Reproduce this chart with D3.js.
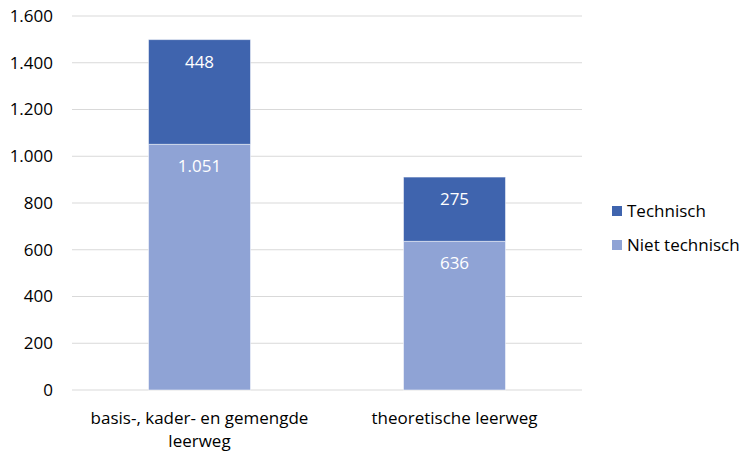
<!DOCTYPE html>
<html>
<head>
<meta charset="utf-8">
<script src="https://cdn.jsdelivr.net/npm/d3@7"></script>
<style>
	body { margin: 0; background: #fff; }
	svg text { font-family: "Open Sans", Lato, sans-serif; }
</style>
</head>
<body>
<div id="chart"></div>
<script>
var categories = ["basis-, kader- en gemengde leerweg", "theoretische leerweg"];
var categoryLines = [["basis-, kader- en gemengde", "leerweg"], ["theoretische leerweg"]];
var seriesNames = ["Niet technisch", "Technisch"];
var nietTechnisch = [1051, 636];
var technisch = [448, 275];
var yTicks = [0, 200, 400, 600, 800, 1000, 1200, 1400, 1600];

var width = 746, height = 452;
var margin = { left: 72, right: 164, top: 16, bottom: 62 };
var colors = { "Niet technisch": "#8fa3d5", "Technisch": "#3f64ae" };
var fontSize = 17;

var fmt = function(v) {
	return d3.format(",")(v).replace(/,/g, ".");
};

var svg = d3.select('#chart').append('svg')
	.attr('width', width)
	.attr('height', height);

var x = d3.scaleBand()
	.domain(categories)
	.range([margin.left, width - margin.right])
	.paddingInner(0.6)
	.paddingOuter(0.3);

var y = d3.scaleLinear()
	.domain([0, 1600])
	.range([height - margin.bottom, margin.top]);

// gridlines
svg.append('g')
	.selectAll('line')
	.data(yTicks)
	.enter().append('line')
	.attr('x1', margin.left)
	.attr('x2', width - margin.right)
	.attr('y1', function(d) { return y(d); })
	.attr('y2', function(d) { return y(d); })
	.attr('stroke', '#d9d9d9')
	.attr('stroke-width', 1);

// y axis labels
var yAxis = d3.axisLeft(y).tickValues(yTicks).tickFormat(fmt).tickSize(0).tickPadding(19);
var yg = svg.append('g')
	.attr('transform', 'translate(' + margin.left + ',0)')
	.call(yAxis);
yg.select('.domain').remove();
yg.selectAll('text')
	.attr('font-size', fontSize)
	.attr('fill', '#000')
	.style('font-family', '"Open Sans", Lato, sans-serif');

// stacked data
var rows = categories.map(function(c, i) {
	return { cat: c, "Niet technisch": nietTechnisch[i], "Technisch": technisch[i] };
});
var stacked = d3.stack().keys(seriesNames)(rows);

var layer = svg.selectAll('g.layer')
	.data(stacked)
	.enter().append('g')
	.classed('layer', true)
	.attr('fill', function(d) { return colors[d.key]; });

layer.selectAll('rect')
	.data(function(d) { return d; })
	.enter().append('rect')
	.attr('x', function(d) { return x(d.data.cat); })
	.attr('width', x.bandwidth())
	.attr('y', function(d) { return y(d[1]); })
	.attr('height', function(d) { return y(d[0]) - y(d[1]); })
	.attr('stroke', '#ffffff')
	.attr('stroke-opacity', 0.5)
	.attr('stroke-width', 1);

// data labels
layer.selectAll('text')
	.data(function(d) { return d; })
	.enter().append('text')
	.attr('x', function(d) { return x(d.data.cat) + x.bandwidth() / 2; })
	.attr('y', function(d) { return y(d[1]) + 28; })
	.attr('text-anchor', 'middle')
	.attr('font-size', fontSize)
	.attr('fill', '#fff')
	.text(function(d) { return fmt(d[1] - d[0]); });

// category labels
var xl = svg.selectAll('text.cat')
	.data(categories)
	.enter().append('text')
	.classed('cat', true)
	.attr('text-anchor', 'middle')
	.attr('font-size', fontSize)
	.attr('fill', '#000')
	.attr('x', function(d) { return x(d) + x.bandwidth() / 2; })
	.attr('y', height - margin.bottom + 34);
xl.selectAll('tspan')
	.data(function(d, i) { return categoryLines[i]; })
	.enter().append('tspan')
	.attr('x', function() { return x(d3.select(this.parentNode).datum()) + x.bandwidth() / 2; })
	.attr('dy', function(d, i) { return i == 0 ? 0 : 23; })
	.text(function(d) { return d; });

// legend
var legendItems = ["Technisch", "Niet technisch"];
var legend = svg.selectAll('g.legend')
	.data(legendItems)
	.enter().append('g')
	.classed('legend', true)
	.attr('transform', function(d, i) { return 'translate(612,' + (206 + i * 34) + ')'; });
legend.append('rect')
	.attr('width', 10)
	.attr('height', 10)
	.attr('fill', function(d) { return colors[d]; });
legend.append('text')
	.attr('x', 15)
	.attr('y', 11)
	.attr('font-size', fontSize)
	.attr('fill', '#000')
	.text(function(d) { return d; });
</script>
</body>
</html>
